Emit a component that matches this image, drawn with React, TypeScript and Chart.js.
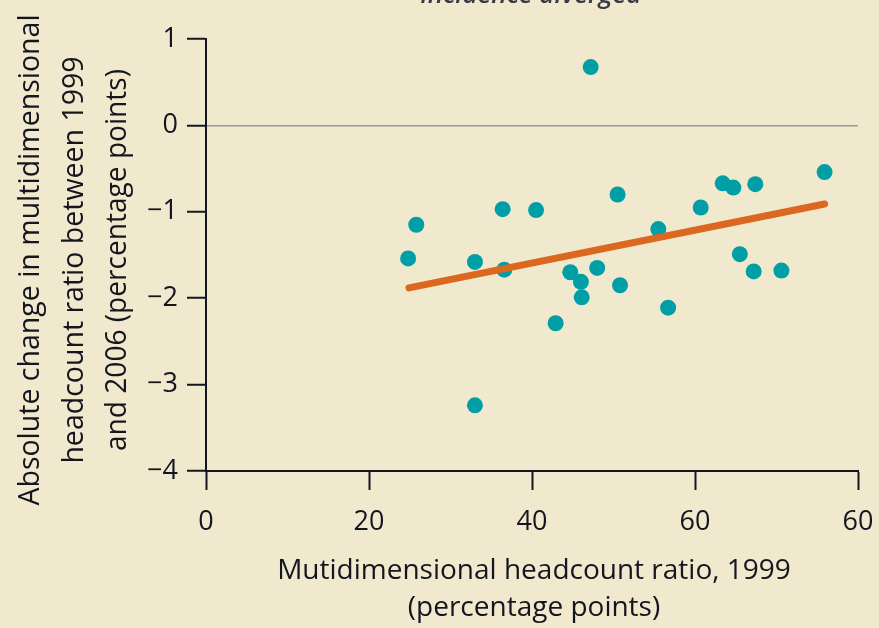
import React, { useEffect, useRef } from "react";
import { Chart, registerables } from "chart.js";

Chart.register(...registerables);

// ---- data ----
const headcount1999 = [24.8, 25.8, 33.0, 33.0, 36.4, 36.6, 40.5, 42.9, 44.7, 46.0, 46.1, 47.2, 48.0, 50.5, 50.8, 55.5, 56.7, 60.7, 63.4, 64.7, 65.5, 67.2, 67.4, 70.6, 75.9];
const absChange = [-1.54, -1.15, -1.58, -3.24, -0.97, -1.67, -0.98, -2.29, -1.70, -1.81, -1.99, 0.675, -1.65, -0.80, -1.85, -1.20, -2.11, -0.95, -0.67, -0.72, -1.49, -1.69, -0.68, -1.68, -0.54];
const trendX = [24.9, 75.9];
const trendY = [-1.88, -0.91];

const xTickValues = [0, 20, 40, 60, 80];
const xTickLabels = ["0", "20", "40", "60", "60"];
const yTickValues = [-4, -3, -2, -1, 0, 1];
const yTickLabels = ["\u22124", "\u22123", "\u22122", "\u22121", "0", "1"];

const xTitleLines = ["Mutidimensional headcount ratio, 1999", "(percentage points)"];
const yTitleLines = [
  "Absolute change in multidimensional",
  "headcount ratio between 1999",
  "and 2006 (percentage points)",
];
const topTitle = "incidence diverged";

const BG = "#F1E9CE";
const INK = "#15151f";
const FONT = "'Open Sans', 'Noto Sans', sans-serif";

const titlesPlugin = {
  id: "customTitles",
  afterDraw(chart: any) {
    const ctx = chart.ctx as CanvasRenderingContext2D;
    ctx.save();
    ctx.fillStyle = INK;
    // x title
    ctx.font = `28px ${FONT}`;
    ctx.textAlign = "center";
    ctx.textBaseline = "middle";
    const cx = 534;
    const xWidths = [525, 263];
    xTitleLines.forEach((t, i) => {
      ctx.fillText(t, cx, 571 + i * 37, xWidths[i]);
    });
    // y title (rotated)
    ctx.font = `28.5px ${FONT}`;
    const yWidths = [496, 410, 382];
    const yCenters = [31, 75, 118];
    const cy = 260;
    yTitleLines.forEach((t, i) => {
      ctx.save();
      ctx.translate(yCenters[i], cy);
      ctx.rotate(-Math.PI / 2);
      ctx.fillText(t, 0, 0, yWidths[i]);
      ctx.restore();
    });
    // top title, cut off by the top edge
    ctx.font = `italic 600 26px ${FONT}`;
    ctx.fillStyle = "#3a3a44";
    ctx.textBaseline = "alphabetic";
    ctx.fillText(topTitle, 531, 3, 256);
    ctx.restore();
  },
};

export default function App() {
  const ref = useRef<HTMLCanvasElement | null>(null);
  useEffect(() => {
    document.body.style.margin = "0";
    const canvas = ref.current!;
    const chart = new Chart(canvas, {
      type: "scatter",
      data: {
        datasets: [
          {
            type: "line",
            data: trendX.map((x, i) => ({ x, y: trendY[i] })),
            borderColor: "#DC671E",
            borderWidth: 7,
            borderCapStyle: "round",
            pointRadius: 0,
            fill: false,
            order: 0,
          } as any,
          {
            type: "scatter",
            data: headcount1999.map((x, i) => ({ x, y: absChange[i] })),
            backgroundColor: "#009FA6",
            borderWidth: 0,
            pointRadius: 8,
            pointHoverRadius: 8,
            order: 1,
          },
        ],
      },
      options: {
        responsive: false,
        animation: false,
        devicePixelRatio: 1,
        layout: { padding: { top: 39, right: 21, left: 0, bottom: 0 } },
        plugins: {
          legend: { display: false },
          tooltip: { enabled: false },
          title: { display: false },
        },
        scales: {
          x: {
            type: "linear",
            min: 0,
            max: 80,
            afterFit: (s: any) => {
              s.height = 157;
              s.paddingLeft = 0;
              s.paddingRight = 0;
            },
            afterBuildTicks: (s: any) => {
              s.ticks = xTickValues.map((v) => ({ value: v }));
            },
            ticks: {
              padding: 16,
              color: INK,
              font: { family: FONT, size: 27 },
              callback: (v: any) => xTickLabels[xTickValues.indexOf(Number(v))] ?? "",
            },
            grid: {
              drawOnChartArea: false,
              drawTicks: true,
              tickLength: 19,
              tickWidth: 2,
              tickColor: INK,
            },
            border: { display: true, color: INK, width: 2 },
          },
          y: {
            type: "linear",
            min: -4,
            max: 1,
            afterFit: (s: any) => {
              s.width = 206;
              s.paddingTop = 0;
              s.paddingBottom = 0;
            },
            afterBuildTicks: (s: any) => {
              s.ticks = yTickValues.map((v) => ({ value: v }));
            },
            ticks: {
              padding: 9,
              color: INK,
              font: { family: FONT, size: 27 },
              callback: (v: any) => yTickLabels[yTickValues.indexOf(Number(v))] ?? "",
            },
            grid: {
              drawOnChartArea: true,
              color: (c: any) => (c.tick && c.tick.value === 0 ? "#9b9b9b" : "rgba(0,0,0,0)"),
              lineWidth: 1.5,
              drawTicks: true,
              tickLength: 19,
              tickWidth: 2,
              tickColor: INK,
            },
            border: { display: true, color: INK, width: 2 },
          },
        },
      },
      plugins: [titlesPlugin],
    } as any);
    return () => chart.destroy();
  }, []);
  return (
    <div style={{ position: "fixed", left: 0, top: 0, width: 879, height: 628, background: BG }}>
      <canvas ref={ref} width={879} height={628} style={{ display: "block" }} />
    </div>
  );
}
